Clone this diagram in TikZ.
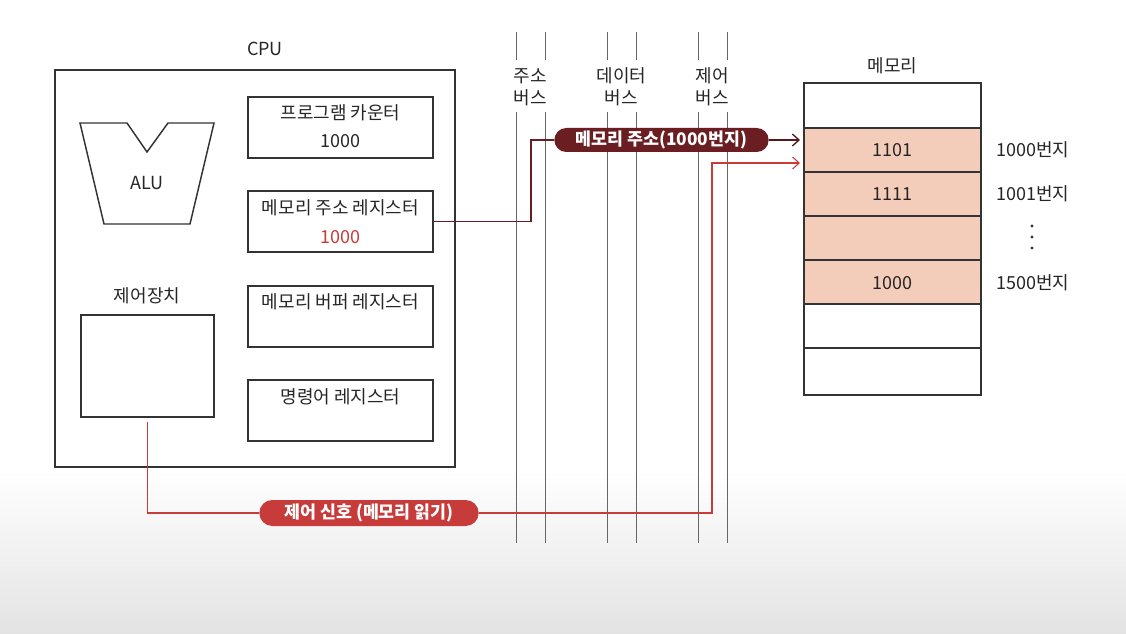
\documentclass[tikz,border=0pt]{standalone}
\usepackage{fontspec}
\setmainfont{Noto Sans CJK KR}
\usetikzlibrary{arrows.meta,shapes.misc,calc}
\definecolor{maroon}{HTML}{6B1E22}
\definecolor{sigred}{HTML}{C73C3A}
\definecolor{peach}{HTML}{F4CDBA}
\definecolor{busgray}{HTML}{666666}
\definecolor{boxline}{HTML}{333333}
\tikzset{
  box/.style={draw=boxline, line width=1.1pt, inner sep=0pt, fill=white},
  reg/.style={box, minimum width=138.75pt, minimum height=45.75pt},
  txt/.style={font=\fontsize{13.5}{16.5}\selectfont, text=black!85, inner sep=1pt},
  bus/.style={draw=busgray, line width=0.7pt},
  pill/.style={rounded rectangle, text=white, font=\bfseries\fontsize{13}{15}\selectfont, inner sep=1pt},
  memrow/.style={draw=boxline, line width=1pt, minimum width=132.75pt, inner sep=0pt},
  barb/.style={-{Straight Barb[length=5pt,width=9pt]}},
  dotmark/.style={fill=black!80}
}
\begin{document}
\begin{tikzpicture}[x=0.75pt,y=-0.75pt]
\fill[white] (0,0) rectangle (1126,634);
\shade[top color=white, bottom color=black!11] (0,470) rectangle (1126,634);
\useasboundingbox (0,0) rectangle (1126,634);

% CPU
\node[txt] (cpulbl) at (265,49) {CPU};
\node[box, minimum width=300pt, minimum height=297.75pt] (cpu) at (255,268.5) {};

% ALU
\draw[boxline, line width=1.1pt, fill=white] (80,123) -- (127,123) -- (147,152) -- (168,123) -- (214,123) -- (190,224) -- (104,224) -- cycle;
\node[txt] (alu) at (147,183) {ALU};

% registers
\node[reg] (pc) at (340.5,127.5) {};
\node[txt] (pct) at (340.5,113) {프로그램 카운터};
\node[txt] (pcv) at (340.5,141) {1000};
\node[reg] (mar) at (340.5,221.5) {};
\node[txt] (mart) at (340.5,208) {메모리 주소 레지스터};
\node[txt, text=sigred] (marv) at (340.5,237) {1000};
\node[reg] (mbr) at (340.5,316.5) {};
\node[txt] (mbrt) at (340.5,302) {메모리 버퍼 레지스터};
\node[reg] (ir) at (340.5,410.5) {};
\node[txt] (irt) at (340.5,397) {명령어 레지스터};

% control unit
\node[txt] (ctrllbl) at (147,296) {제어장치};
\node[box, minimum width=99.75pt, minimum height=76.5pt] (ctrl) at (147.5,366) {};

% buses
\foreach \x/\n in {516/a1,545/a2,607/d1,636/d2,698/c1,727/c2}{
  \coordinate (\n top) at (\x,32);
  \coordinate (\n brk1) at (\x,60);
  \coordinate (\n brk2) at (\x,112);
  \coordinate (\n bot) at (\x,543);
  \draw[bus] (\n top) -- (\n brk1);
  \draw[bus] (\n brk2) -- (\n bot);
}
\node[txt, align=center] (abus) at (530.5,87) {주소\\버스};
\node[txt, align=center] (dbus) at (621.5,87) {데이터\\버스};
\node[txt, align=center] (cbus) at (712.5,87) {제어\\버스};

% memory
\node[txt] (memlbl) at (892.5,66) {메모리};
\node[memrow, minimum height=33.75pt, fill=white] (m0) at (892.5,105.5) {};
\node[memrow, minimum height=33pt, fill=peach] (m1) at (892.5,150) {};
\node[memrow, minimum height=33pt, fill=peach] (m2) at (892.5,194) {};
\node[memrow, minimum height=33pt, fill=peach] (m3) at (892.5,238) {};
\node[memrow, minimum height=33pt, fill=peach] (m4) at (892.5,282) {};
\node[memrow, minimum height=33pt, fill=white] (m5) at (892.5,326) {};
\node[memrow, minimum height=35.25pt, fill=white] (m6) at (892.5,371.5) {};
\node[txt] (v1) at (892.5,150) {1101};
\node[txt] (v2) at (892.5,194) {1111};
\node[txt] (v4) at (892.5,283) {1000};
\node[txt] (l1) at (1033,150) {1000번지};
\node[txt] (l2) at (1033,194) {1001번지};
\fill[dotmark] (1032,226) circle (1.6);
\fill[dotmark] (1032,237) circle (1.6);
\fill[dotmark] (1032,248) circle (1.6);
\node[txt] (l4) at (1033,283) {1500번지};

% address path
\node[pill, fill=maroon, minimum width=162.75pt, minimum height=18pt] (addr) at (661.5,140) {메모리 주소(1000번지)};
\coordinate (abend) at (531,140);
\coordinate (aend) at (800,140);
\draw[maroon, line width=1pt] (mar.east) -| (abend) -- (addr.west);
\draw[maroon!80!black, line width=1pt, barb] (addr.east) -- (aend);

% control signal path
\node[pill, fill=sigred, minimum width=166.5pt, minimum height=19.5pt] (sig) at (369,513) {제어 신호 (메모리 읽기)};
\coordinate (sturn) at (712,513);
\coordinate (sup2) at (712,163);
\coordinate (send) at (800,163);
\draw[sigred, line width=0.8pt, shorten <=3pt] (ctrl.south) |- (sig.west);
\draw[sigred, line width=0.8pt, barb] (sig.east) -- (sturn) -- (sup2) -- (send);
\end{tikzpicture}
\end{document}
